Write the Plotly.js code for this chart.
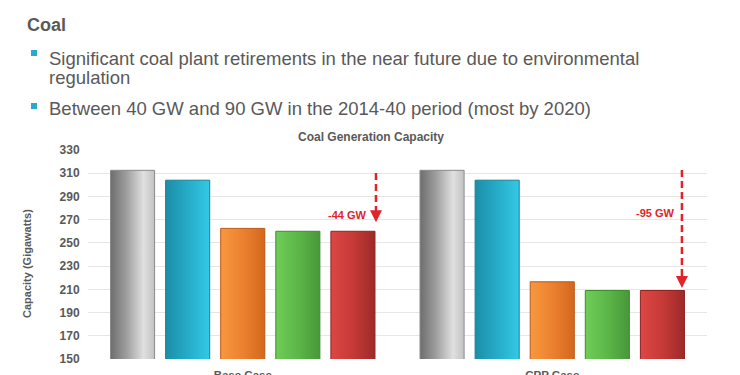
<!DOCTYPE html>
<html>
<head>
<meta charset="utf-8">
<script src="https://cdn.plot.ly/plotly-3.0.1.min.js"></script>
<style>
html,body{margin:0;padding:0;background:#fff;}
#chart{width:740px;height:375px;}
</style>
</head>
<body>
<div id="chart"></div>
<script>
// ---- data ----
var categories = ['Base Case', 'CPP Case'];
var seriesNames = ['2012', '2014', '2020', '2030', '2040'];
var grayValues   = [312.5, 312.5];
var blueValues   = [304, 304];
var orangeValues = [262.5, 216.5];
var greenValues  = [260, 209];
var redValues    = [260, 209];
var changeLabels = ['-44 GW', '-95 GW'];
var yTicks = [150, 170, 190, 210, 230, 250, 270, 290, 310, 330];

var headline = 'Coal';
var bullets = ['Significant coal plant retirements in the near future due to environmental', 'regulation', 'Between 40 GW and 90 GW in the 2014-40 period (most by 2020)'];
var chartTitle = 'Coal Generation Capacity';
var yTitle = 'Capacity (Gigawatts)';

// ---- styling ----
var FONT = 'Liberation Sans, Arial, sans-serif';
var TXT = '#595959';
var RED = '#e2232a';
var fills = ['#a8a8a8', '#27abc8', '#ec7f2c', '#5db64a', '#c63a37'];
var edges = ['#8a8a8a', '#1b7f96', '#b8591a', '#3f8a31', '#8e2424'];
var gradStops = [
  [[0,'#6e6e6e'],[0.35,'#9c9c9c'],[0.75,'#e0e0e0'],[1,'#c2c2c2']],
  [[0,'#1c8ea7'],[0.5,'#26abc8'],[1,'#33c9e6']],
  [[0,'#f8983f'],[0.5,'#ec8130'],[1,'#d3681d']],
  [[0,'#6fcd58'],[0.5,'#5cb748'],[1,'#489739']],
  [[0,'#dd4743'],[0.5,'#c63a37'],[1,'#9c2a29']]
];
var allValues = [grayValues, blueValues, orangeValues, greenValues, redValues];

var traces = allValues.map(function(v, i){
  return {
    type: 'bar', x: categories, y: v, name: seriesNames[i],
    marker: {color: fills[i], line: {color: edges[i], width: 1}},
    hoverinfo: 'x+y+name'
  };
});

// plot area geometry helpers (paper coords)
var L = 88, R = 33, T = 150, B = 16, W = 740, H = 375;
var PW = W - L - R, PH = H - T - B;
function px(x){ return (x - L) / PW; }
function py(y){ return (H - B - y) / PH; }

var annotations = [
  {xref:'paper', yref:'paper', x: px(25), y: py(25), xanchor:'left', yanchor:'middle', showarrow:false,
   text: '<b>' + headline + '</b>', font:{family:FONT, size:18, color:TXT}},
  {xref:'paper', yref:'paper', x: px(47), y: py(58.5), xanchor:'left', yanchor:'middle', showarrow:false,
   text: bullets[0], font:{family:FONT, size:18.5, color:TXT}},
  {xref:'paper', yref:'paper', x: px(47), y: py(77.5), xanchor:'left', yanchor:'middle', showarrow:false,
   text: bullets[1], font:{family:FONT, size:18.5, color:TXT}},
  {xref:'paper', yref:'paper', x: px(47), y: py(108.5), xanchor:'left', yanchor:'middle', showarrow:false,
   text: bullets[2], font:{family:FONT, size:18.5, color:TXT}},
  {xref:'paper', yref:'paper', x: px(371), y: py(137), xanchor:'center', yanchor:'middle', showarrow:false,
   text: '<b>' + chartTitle + '</b>', font:{family:FONT, size:12, color:TXT}},
  {xref:'paper', yref:'paper', x: px(27), y: py(264), xanchor:'center', yanchor:'middle', showarrow:false,
   textangle:-90, text: '<b>' + yTitle + '</b>', font:{family:FONT, size:11, color:TXT}},
  // change labels
  {xref:'x', yref:'y', x: 0.337, y: 274, showarrow:false, text:'<b>' + changeLabels[0] + '</b>',
   font:{family:FONT, size:11, color:RED}},
  {xref:'x', yref:'y', x: 1.332, y: 275.7, showarrow:false, text:'<b>' + changeLabels[1] + '</b>',
   font:{family:FONT, size:11, color:RED}},
  // arrow heads
  {xref:'x', yref:'y', x: 0.4305, y: 267.8, ax: 0, ay: -7, axref:'pixel', ayref:'pixel', showarrow:true,
   text:'', arrowhead:2, arrowsize:1.2, arrowwidth:2, arrowcolor:RED, standoff:0},
  {xref:'x', yref:'y', x: 1.419, y: 211.2, ax: 0, ay: -7, axref:'pixel', ayref:'pixel', showarrow:true,
   text:'', arrowhead:2, arrowsize:1.2, arrowwidth:2, arrowcolor:RED, standoff:0}
];

var shapes = [
  {type:'rect', xref:'paper', yref:'paper', x0: px(31), x1: px(37), y0: py(56), y1: py(50),
   fillcolor:'#2aa9cf', line:{width:0}},
  {type:'rect', xref:'paper', yref:'paper', x0: px(31), x1: px(37), y0: py(109), y1: py(103),
   fillcolor:'#2aa9cf', line:{width:0}},
  {type:'line', xref:'x', yref:'y', x0: 0.4305, x1: 0.4305, y0: 310.2, y1: 273,
   line:{color:RED, width:2.5, dash:'7px,4px'}},
  {type:'line', xref:'x', yref:'y', x0: 1.419, x1: 1.419, y0: 312.8, y1: 216.5,
   line:{color:RED, width:2.5, dash:'7px,4px'}}
];

var layout = {
  width: W, height: H,
  margin: {l: L, r: R, t: T, b: B, pad: 0},
  paper_bgcolor: '#ffffff', plot_bgcolor: '#ffffff',
  showlegend: false,
  barmode: 'group', bargap: 0.11, bargroupgap: 0.2,
  font: {family: FONT, color: TXT},
  xaxis: {
    type: 'category', range: [-0.5, 1.5], fixedrange: true,
    showgrid: false, zeroline: false, showline: false,
    ticks: 'outside', ticklen: 0, ticklabelstandoff: 5,
    tickfont: {family: FONT, size: 11.5, color: TXT, weight: 'bold'}
  },
  yaxis: {
    range: [150, 330], fixedrange: true,
    tickvals: yTicks, ticktext: yTicks.map(String),
    showgrid: true, gridcolor: '#e6e6e6', gridwidth: 1,
    zeroline: false, showline: false,
    ticks: 'outside', ticklen: 0, ticklabelstandoff: 5,
    tickfont: {family: FONT, size: 12, color: TXT, weight: 'bold'}
  },
  annotations: annotations,
  shapes: shapes
};

Plotly.newPlot('chart', traces, layout, {displayModeBar: false, staticPlot: true}).then(function(gd){
  try {
    var svg = gd.querySelector('svg.main-svg');
    var ns = 'http://www.w3.org/2000/svg';
    var defs = svg.querySelector('defs') || svg.insertBefore(document.createElementNS(ns,'defs'), svg.firstChild);
    gradStops.forEach(function(stops, i){
      var g = document.createElementNS(ns, 'linearGradient');
      g.setAttribute('id', 'barGrad' + i);
      g.setAttribute('x1','0'); g.setAttribute('x2','1'); g.setAttribute('y1','0'); g.setAttribute('y2','0');
      stops.forEach(function(s){
        var st = document.createElementNS(ns, 'stop');
        st.setAttribute('offset', s[0]); st.setAttribute('stop-color', s[1]);
        g.appendChild(st);
      });
      defs.appendChild(g);
    });
    var tr = gd.querySelectorAll('.barlayer .trace');
    tr.forEach(function(t, i){
      t.querySelectorAll('.point path').forEach(function(p){ p.style.fill = 'url(#barGrad' + i + ')'; });
    });
  } catch(e) {}
});
</script>
</body>
</html>
